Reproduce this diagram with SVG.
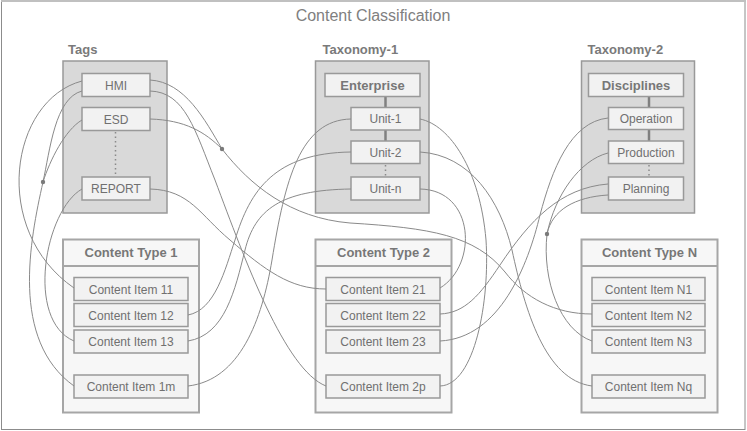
<svg xmlns="http://www.w3.org/2000/svg" width="747" height="431" viewBox="0 0 747 431">
<style>
.frame{fill:#fff;stroke:#8c8c8c;stroke-width:1}
.title{font-family:"Liberation Sans",Arial,sans-serif;font-size:16px;fill:#808080}
.grp{font-family:"Liberation Sans",Arial,sans-serif;font-size:13px;font-weight:bold;fill:#7a7a7a}
.cont{fill:#d9d9d9;stroke:#999;stroke-width:1.5}
.item{fill:#f2f2f2;stroke:#999;stroke-width:1.5}
.ctype{fill:#f7f7f7;stroke:#a6a6a6;stroke-width:2}
.sep{stroke:#a6a6a6;stroke-width:2}
.t{font-family:"Liberation Sans",Arial,sans-serif;font-size:12px;fill:#707070;text-anchor:middle}
.tb{font-family:"Liberation Sans",Arial,sans-serif;font-size:13px;font-weight:bold;fill:#777;text-anchor:middle}
.link{fill:none;stroke:#8a8a8a;stroke-width:1}
.solid{stroke:#808080;stroke-width:2.5}
.dots{stroke:#8a8a8a;stroke-width:1.5;stroke-dasharray:1.5,3}
.jn{fill:#7a7a7a}
</style>
<rect class="frame" x="1.5" y="1.5" width="743.5" height="428"/>
<line x1="1" y1="1" x2="746" y2="1" stroke="#c0c0c0" stroke-width="2"/>
<text class="title" x="373" y="21" text-anchor="middle">Content Classification</text>

<g id="tags">
<text class="grp" x="68" y="54">Tags</text>
<rect class="cont" x="63" y="61" width="104" height="152"/>
<line class="dots" x1="115.5" y1="132" x2="115.5" y2="176"/>
<g id="hmi"><rect class="item" x="82" y="73.5" width="68" height="23"/><text class="t" x="116" y="89.5">HMI</text></g>
<g id="esd"><rect class="item" x="82" y="107.5" width="68" height="23"/><text class="t" x="116" y="123.5">ESD</text></g>
<g id="report"><rect class="item" x="82" y="177" width="68" height="23"/><text class="t" x="116" y="193">REPORT</text></g>
</g>

<g id="taxonomy1">
<text class="grp" x="322.5" y="54">Taxonomy-1</text>
<rect class="cont" x="315.5" y="61" width="113.5" height="152"/>
<line class="solid" x1="385.5" y1="96.5" x2="385.5" y2="107.5"/>
<line class="solid" x1="385.5" y1="130" x2="385.5" y2="141"/>
<line class="dots" x1="385.5" y1="165" x2="385.5" y2="176"/>
<g id="enterprise"><rect class="item" x="325" y="73.5" width="95" height="23"/><text class="tb" x="372.5" y="89.5">Enterprise</text></g>
<g id="unit1"><rect class="item" x="351" y="107.5" width="69" height="22.5"/><text class="t" x="385.5" y="123">Unit-1</text></g>
<g id="unit2"><rect class="item" x="351" y="141" width="69" height="22.5"/><text class="t" x="385.5" y="156.5">Unit-2</text></g>
<g id="unitn"><rect class="item" x="351" y="177" width="69" height="23"/><text class="t" x="385.5" y="193">Unit-n</text></g>
</g>

<g id="taxonomy2">
<text class="grp" x="587.5" y="54">Taxonomy-2</text>
<rect class="cont" x="581.5" y="61" width="113" height="152"/>
<line class="solid" x1="649" y1="96.5" x2="649" y2="107.5"/>
<line class="solid" x1="649" y1="130" x2="649" y2="141"/>
<line class="dots" x1="649" y1="165" x2="649" y2="176"/>
<g id="disciplines"><rect class="item" x="588.5" y="73.5" width="95" height="23"/><text class="tb" x="636" y="89.5">Disciplines</text></g>
<g id="operation"><rect class="item" x="608.5" y="107.5" width="75" height="22"/><text class="t" x="646" y="123">Operation</text></g>
<g id="production"><rect class="item" x="608.5" y="141" width="75" height="22.5"/><text class="t" x="646" y="156.5">Production</text></g>
<g id="planning"><rect class="item" x="608.5" y="177" width="75" height="23"/><text class="t" x="646" y="193">Planning</text></g>
</g>

<g id="ctype1">
<rect class="ctype" x="63" y="239.5" width="136" height="173"/>
<line class="sep" x1="63" y1="266" x2="199" y2="266"/>
<text class="tb" x="131" y="257">Content Type 1</text>
<g id="item11"><rect class="item" x="74" y="277.5" width="114" height="23"/><text class="t" x="131" y="293.5">Content Item 11</text></g>
<g id="item12"><rect class="item" x="74" y="303.5" width="114" height="23"/><text class="t" x="131" y="319.5">Content Item 12</text></g>
<g id="item13"><rect class="item" x="74" y="330" width="114" height="23"/><text class="t" x="131" y="346">Content Item 13</text></g>
<g id="item1m"><rect class="item" x="74" y="375" width="114" height="23"/><text class="t" x="131" y="391">Content Item 1m</text></g>
</g>

<g id="ctype2">
<rect class="ctype" x="315.5" y="239.5" width="136" height="173"/>
<line class="sep" x1="315.5" y1="266" x2="451.5" y2="266"/>
<text class="tb" x="383.5" y="257">Content Type 2</text>
<g id="item21"><rect class="item" x="326" y="277.5" width="114" height="23"/><text class="t" x="383" y="293.5">Content Item 21</text></g>
<g id="item22"><rect class="item" x="326" y="303.5" width="114" height="23"/><text class="t" x="383" y="319.5">Content Item 22</text></g>
<g id="item23"><rect class="item" x="326" y="330" width="114" height="23"/><text class="t" x="383" y="346">Content Item 23</text></g>
<g id="item2p"><rect class="item" x="326" y="375" width="114" height="23"/><text class="t" x="383" y="391">Content Item 2p</text></g>
</g>

<g id="ctypeN">
<rect class="ctype" x="581.5" y="239.5" width="136" height="173"/>
<line class="sep" x1="581.5" y1="266" x2="717.5" y2="266"/>
<text class="tb" x="649.5" y="257">Content Type N</text>
<g id="itemN1"><rect class="item" x="592" y="277.5" width="113" height="23"/><text class="t" x="648.5" y="293.5">Content Item N1</text></g>
<g id="itemN2"><rect class="item" x="592" y="303.5" width="113" height="23"/><text class="t" x="648.5" y="319.5">Content Item N2</text></g>
<g id="itemN3"><rect class="item" x="592" y="330" width="113" height="23"/><text class="t" x="648.5" y="346">Content Item N3</text></g>
<g id="itemNq"><rect class="item" x="592" y="375" width="113" height="23"/><text class="t" x="648.5" y="391">Content Item Nq</text></g>
</g>

<g id="connectors">
<path class="link" d="M82,81 C10,100 -10,230 74,288"/>
<path class="link" d="M82,91 C55,98 50,150 43,182 C30,240 10,340 74,386"/>
<path class="link" d="M82,120 C65,130 50,160 43,182"/>
<path class="link" d="M82,189 C45,210 25,320 74,341"/>
<path class="link" d="M150,80 C185,82 205,120 222,149"/>
<path class="link" d="M150,119 C185,120 205,132 222,149"/>
<path class="link" d="M222,149 C250,185 290,218 350,223 C430,228 475,235 505,272 C525,298 555,314 592,314"/>
<path class="link" d="M150,91 C185,92 195,130 215,180 C245,260 285,370 326,386"/>
<path class="link" d="M150,189 C190,190 200,215 230,240 C265,270 290,289 326,289"/>
<path class="link" d="M188,315 C215,310 225,270 235,240 C250,190 275,153 351,152"/>
<path class="link" d="M188,341 C225,335 235,290 245,250 C255,210 280,190 351,189"/>
<path class="link" d="M188,386 C240,380 262,320 272,260 C285,180 300,120 351,119"/>
<path class="link" d="M420,119 C450,125 480,170 486,240 C490,300 475,385 440,386"/>
<path class="link" d="M420,152 C470,155 500,200 512,250 C525,310 545,380 592,386"/>
<path class="link" d="M420,189 C475,190 478,265 440,288"/>
<path class="link" d="M608,118 C570,122 552,170 540,215 C528,265 500,338 440,341"/>
<path class="link" d="M608,184 C560,188 530,220 500,265 C480,295 465,313 440,314"/>
<path class="link" d="M608,153 C580,160 555,195 547,234"/>
<path class="link" d="M608,195 C575,197 552,210 547,234"/>
<path class="link" d="M547,234 C542,280 560,330 592,341"/>
<circle class="jn" cx="43" cy="182" r="2.2"/>
<circle class="jn" cx="222" cy="149" r="2.2"/>
<circle class="jn" cx="547" cy="234" r="2.2"/>
</g>
</svg>
